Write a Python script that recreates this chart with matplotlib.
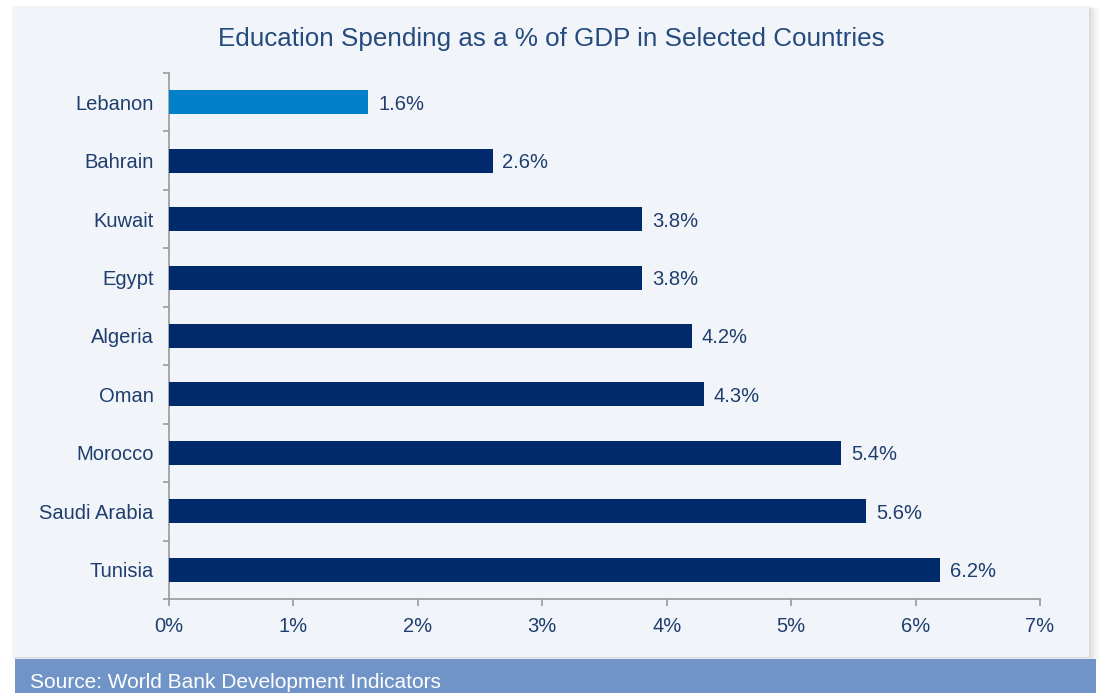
import matplotlib.pyplot as plt
from matplotlib.patches import Rectangle

plt.rcParams["font.family"] = ["Liberation Sans", "DejaVu Sans"]

# ==========================================
# Data
# ==========================================

countries = ["Lebanon", "Bahrain", "Kuwait", "Egypt", "Algeria",
             "Oman", "Morocco", "Saudi Arabia", "Tunisia"]
spending = [1.6, 2.6, 3.8, 3.8, 4.2, 4.3, 5.4, 5.6, 6.2]
x_ticks = [0, 1, 2, 3, 4, 5, 6, 7]

navy = "#002A6C"
highlight = "#0080C8"
text_col = "#1F3E6E"
panel_bg = "#F1F5FA"

# ==========================================
# Figure and background panels
# ==========================================

fig = plt.figure(figsize=(11.01, 6.93), dpi=100)
fig.patch.set_facecolor("white")

W, H = 1101, 693

# soft shadow behind the panel
for i, a in enumerate([0.05, 0.04, 0.03, 0.02]):
    fig.patches.append(Rectangle(((12 + i) / W, 1 - (658 + i) / H),
                                 (1079 + 2 * i) / W, (652) / H,
                                 transform=fig.transFigure,
                                 facecolor="black", alpha=a,
                                 edgecolor="none", zorder=0))

fig.patches.append(Rectangle((12 / W, 1 - 657 / H), 1077 / W, 651 / H,
                             transform=fig.transFigure,
                             facecolor=panel_bg, edgecolor="none", zorder=1))

# source footer band
fig.patches.append(Rectangle((15 / W, 0), 1081 / W, 34 / H,
                             transform=fig.transFigure,
                             facecolor="#7094C7", edgecolor="none", zorder=2))
fig.text(30 / W, 11 / H, "Source: World Bank Development Indicators",
         color="white", fontsize=15, va="center", ha="left", zorder=3)

# ==========================================
# Bar chart
# ==========================================

ax = fig.add_axes([169 / W, 1 - 599 / H, 871 / W, 526 / H])
ax.set_facecolor("none")
ax.set_zorder(3)

ypos = list(range(len(countries)))
colors = [highlight if c == "Lebanon" else navy for c in countries]
bars = ax.barh(ypos, spending, height=0.41, color=colors, zorder=3)

for y, v in zip(ypos, spending):
    ax.text(v + 0.08, y, f"{v:.1f}%", va="center_baseline", ha="left",
            color=text_col, fontsize=14.5)

ax.set_xlim(0, 7)
ax.set_ylim(len(countries) - 0.5, -0.5)
ax.set_xticks(x_ticks)
ax.set_xticklabels([f"{t}%" for t in x_ticks])
ax.set_yticks(ypos)
ax.set_yticklabels(countries)
ax.set_yticks([i - 0.5 for i in range(len(countries) + 1)], minor=True)

ax.tick_params(axis="x", colors="#999999", labelcolor=text_col,
               labelsize=14.5, length=5, width=1.2, pad=8, direction="out")
ax.tick_params(axis="y", which="major", length=0, labelcolor=text_col,
               labelsize=14.5, pad=11)
ax.tick_params(axis="y", which="minor", colors="#999999", length=4, width=1.2)

for side in ["top", "right"]:
    ax.spines[side].set_visible(False)
for side in ["left", "bottom"]:
    ax.spines[side].set_color("#999999")
    ax.spines[side].set_linewidth(1.2)

fig.text(551 / W, 1 - 39 / H,
         "Education Spending as a % of GDP in Selected Countries",
         color="#244A7E", fontsize=18.7, ha="center", va="center", zorder=4)

fig.savefig("out.png", dpi=100)
